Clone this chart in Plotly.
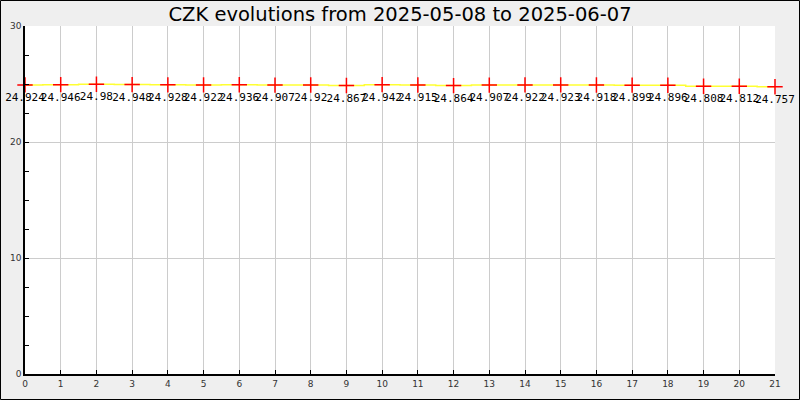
import plotly.graph_objects as go

title = "CZK evolutions from 2025-05-08 to 2025-06-07"
days = list(range(22))
rates = [24.924, 24.946, 24.98, 24.948, 24.928, 24.922, 24.936, 24.907, 24.92, 24.867,
         24.942, 24.915, 24.864, 24.907, 24.922, 24.923, 24.918, 24.899, 24.896, 24.808,
         24.812, 24.757]
labels = [f"{v:g}" for v in rates]

fig = go.Figure()
fig.add_trace(go.Scatter(
    x=days, y=rates, mode="lines+markers+text",
    line=dict(color="#ffff33", width=1.5, shape="hvh"),
    marker=dict(symbol="cross-thin", size=11, line=dict(color="#ff0000", width=1.5)),
    text=labels, textposition="bottom center",
    textfont=dict(family="DejaVu Sans Mono", size=11, color="#000000"),
    cliponaxis=False, showlegend=False, hoverinfo="skip",
))

W, H = 800, 400
ml, mr, mt, mb = 25, 25, 26, 26
pw, ph = W - ml - mr, H - mt - mb

fig.update_layout(
    width=W, height=H,
    margin=dict(l=ml, r=mr, t=mt, b=mb, autoexpand=False),
    paper_bgcolor="#efefef", plot_bgcolor="#ffffff",
    title=dict(text=title, x=0.5, xanchor="center", y=1 - 14 / H, yanchor="middle",
               font=dict(family="DejaVu Sans", size=19.5, color="#000000")),
    xaxis=dict(range=[0, 21], dtick=1, tick0=0, showgrid=True, gridcolor="#cccccc",
               showline=True, linecolor="#000000", linewidth=1.5, ticks="inside",
               ticklen=4, tickcolor="#000000", zeroline=False, automargin=False,
               tickfont=dict(family="DejaVu Sans", size=9, color="#333333")),
    yaxis=dict(range=[0, 30], dtick=10, tick0=0, showgrid=True, gridcolor="#cccccc",
               showline=True, linecolor="#000000", linewidth=1.5, ticks="inside",
               ticklen=4, tickcolor="#000000", zeroline=False, automargin=False,
               minor=dict(dtick=2.5, ticks="inside", ticklen=4, tickcolor="#000000", showgrid=False),
               tickfont=dict(family="DejaVu Sans", size=9, color="#333333")),
    shapes=[dict(type="rect", xref="paper", yref="paper",
                 x0=(0.5 - ml) / pw, x1=(W - 0.5 - ml) / pw,
                 y0=(H - mb - (H - 0.5)) / ph, y1=(H - mb - 0.5) / ph,
                 line=dict(color="#000000", width=1), layer="above")],
)

fig.write_html("out.html", config={"displayModeBar": False},
               post_script="document.body.style.margin='0';document.body.style.overflow='hidden';")
